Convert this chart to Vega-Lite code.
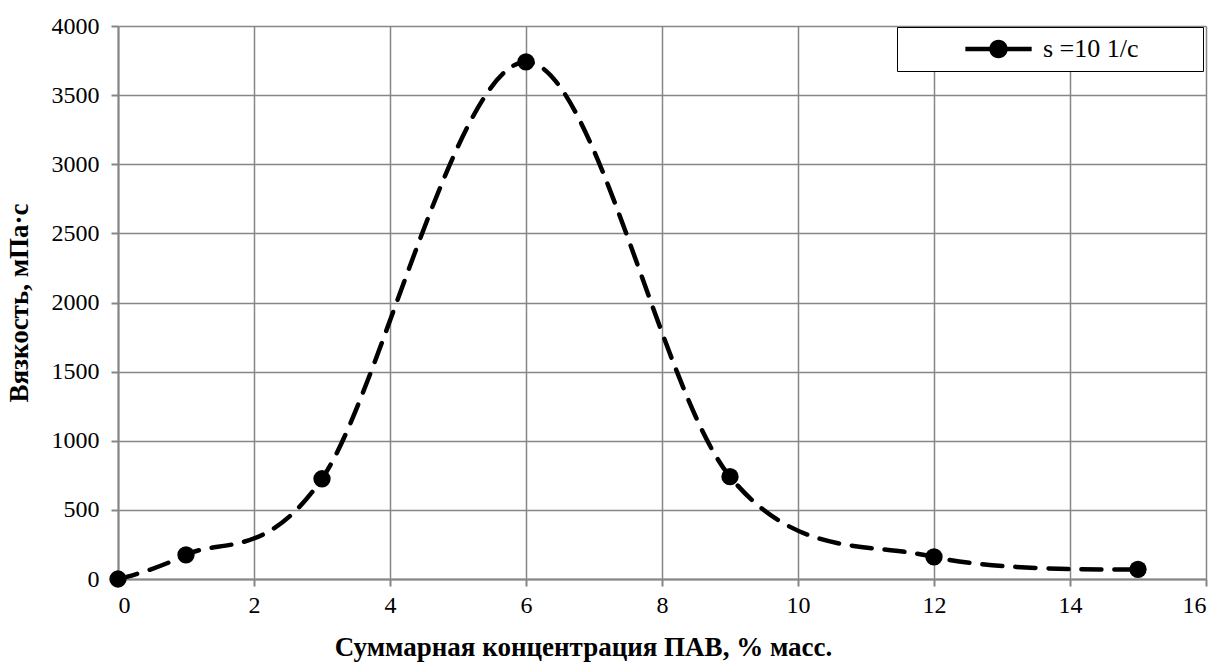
{
  "$schema": "https://vega.github.io/schema/vega-lite/v6.json",
  "width": 1088,
  "height": 553,
  "autosize": {"type": "none"},
  "padding": {"left": 118, "top": 26, "right": 15, "bottom": 83},
  "background": "white",
  "config": {
    "font": "Liberation Serif",
    "view": {"stroke": null},
    "axis": {
      "labelFont": "Liberation Serif",
      "labelFontSize": 24,
      "labelColor": "black",
      "titleFont": "Liberation Serif",
      "titleFontSize": 27,
      "titleFontWeight": "bold",
      "titleColor": "black",
      "domainColor": "#868686",
      "domainWidth": 2,
      "tickColor": "#868686",
      "tickWidth": 2,
      "tickSize": 7,
      "gridColor": "#868686",
      "gridWidth": 1.5,
      "gridOpacity": 1
    }
  },
  "data": {
    "values": [
      {"x": 0, "y": 0, "series": "s =10 1/с"},
      {"x": 1, "y": 175, "series": "s =10 1/с"},
      {"x": 3, "y": 725, "series": "s =10 1/с"},
      {"x": 6, "y": 3740, "series": "s =10 1/с"},
      {"x": 9, "y": 740, "series": "s =10 1/с"},
      {"x": 12, "y": 160, "series": "s =10 1/с"},
      {"x": 15, "y": 70, "series": "s =10 1/с"}
    ]
  },
  "encoding": {
    "x": {
      "field": "x",
      "type": "quantitative",
      "scale": {"domain": [0, 16], "nice": false},
      "axis": {"values": [0, 2, 4, 6, 8, 10, 12, 14, 16], "format": "d", "title": "Суммарная концентрация ПАВ, % масс.", "labelPadding": 7, "titlePadding": 17, "titleX": 465}
    },
    "y": {
      "field": "y",
      "type": "quantitative",
      "scale": {"domain": [0, 4000], "nice": false},
      "axis": {"values": [0, 500, 1000, 1500, 2000, 2500, 3000, 3500, 4000], "format": "d", "title": "Вязкость, мПа·с", "labelPadding": 12, "titlePadding": 18}
    }
  },
  "layer": [
    {
      "mark": {"type": "line", "interpolate": "cardinal", "color": "black", "strokeWidth": 4.5, "strokeDash": [20, 13], "strokeCap": "round"},
      "encoding": {}
    },
    {
      "mark": {"type": "point", "filled": true, "opacity": 1, "size": 300},
      "encoding": {
        "color": {
          "field": "series",
          "type": "nominal",
          "scale": {"range": ["black"]},
          "legend": {
            "title": "\u00a0",
            "titleOrient": "right",
            "titlePadding": 62,
            "titleFontSize": 20,
            "orient": "none",
            "legendX": 779,
            "legendY": 1,
            "direction": "vertical",
            "strokeColor": "black",
            "fillColor": "white",
            "padding": 2,
            "clipHeight": 40,
            "symbolType": "M-1,-0.07L1,-0.07L1,0.07L-1,0.07ZM0.28,0A0.28,0.28,0,1,1,-0.28,0A0.28,0.28,0,1,1,0.28,0Z",
            "symbolSize": 4400,
            "symbolStrokeWidth": 0,
            "symbolFillColor": "black",
            "symbolOpacity": 1,
            "symbolOffset": 66,
            "labelOffset": 11,
            "labelFont": "Liberation Serif",
            "labelFontSize": 26,
            "labelColor": "black",
            "labelLimit": 400
          }
        }
      }
    }
  ]
}
